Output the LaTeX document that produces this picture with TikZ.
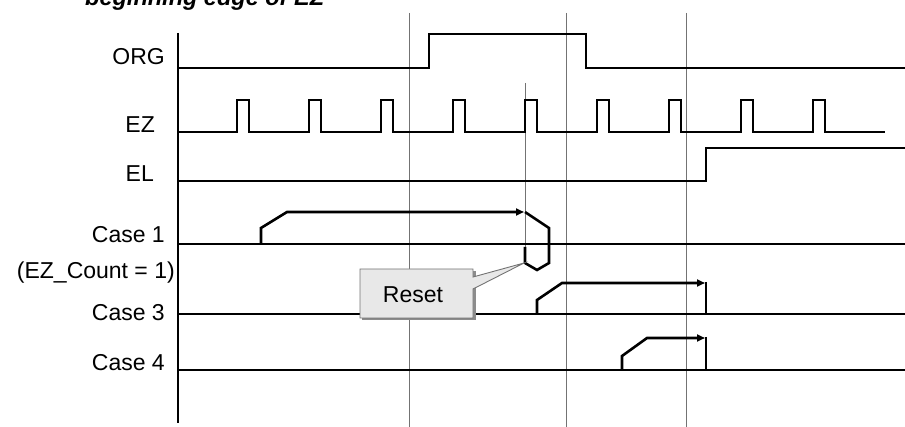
\documentclass[tikz,border=0pt]{standalone}
\usepackage{fontspec}
\setmainfont{Liberation Sans}
\usetikzlibrary{arrows.meta}
\begin{document}
\begin{tikzpicture}[x=1pt,y=-1pt,
  sig/.style={line width=1.3pt, black},
  vgrid/.style={line width=0.9pt, black!55},
  casepath/.style={line width=2.6pt, black, line join=miter},
  arr/.style={-{Triangle[length=8pt,width=7pt]}},
  lbl/.style={font=\fontsize{23}{27}\selectfont, inner sep=0pt, anchor=base east},
  callout/.style={draw=black!55, line width=0.9pt, fill=black!9}
]
\useasboundingbox (0,0) rectangle (905,427);
% title (cut off at top)
\node[font=\fontsize{23.5}{27}\selectfont\bfseries\itshape, inner sep=0pt, anchor=base west] (title) at (85,6) {beginning edge of EZ};
% vertical reference lines
\draw[vgrid] (409,13) -- (409,427);
\draw[vgrid] (566,13) -- (566,427);
\draw[vgrid] (686,13) -- (686,427);
\draw[vgrid] (525,83) -- (525,263);
% axis
\draw[sig] (178,33) -- (178,423);
% ORG
\draw[sig] (178,68) -- (429,68) -- (429,34) -- (586,34) -- (586,68) -- (905,68);
% EZ
\draw[sig] (178,132) foreach \x in {237,309,...,813} { -- (\x,132) -- (\x,100) -- (\x+12,100) -- (\x+12,132) } -- (885,132);
% EL
\draw[sig] (178,181) -- (706,181) -- (706,148) -- (905,148);
% case baselines
\draw[sig] (178,244) -- (905,244);
\draw[sig] (178,314) -- (905,314);
\draw[sig] (178,370) -- (905,370);
% Case 1
\draw[casepath, arr] (261,244) -- (261,228) -- (287,212) -- (524,212);
\draw[casepath] (525,212) -- (549,228) -- (549,263) -- (537,270) -- (525,263) -- (525,247);
% Case 3
\draw[casepath, arr] (537,314) -- (537,300) -- (562,283) -- (705,283);
\draw[casepath] (706,282) -- (706,314);
% Case 4
\draw[casepath, arr] (622,370) -- (622,356) -- (647,338) -- (705,338);
\draw[casepath] (706,337) -- (706,370);
% Reset callout
\fill[black!45] (362,271) rectangle (475.5,320.5);
\draw[callout] (360,269) -- (473,269) -- (473,277) -- (524,263) -- (473,289) -- (473,318) -- (360,318) -- cycle;
\node[font=\fontsize{23}{27}\selectfont, inner sep=0pt, anchor=base] (reset) at (413,303) {Reset};
% labels
\node[lbl] (org) at (165,65) {ORG};
\node[lbl] (ez) at (155,133) {EZ};
\node[lbl] (el) at (154,182) {EL};
\node[lbl] (c1) at (165,243) {Case 1};
\node[lbl] (cnt) at (175,279) {(EZ\_Count = 1)};
\node[lbl] (c3) at (165,321) {Case 3};
\node[lbl] (c4) at (165,371) {Case 4};
\end{tikzpicture}
\end{document}
